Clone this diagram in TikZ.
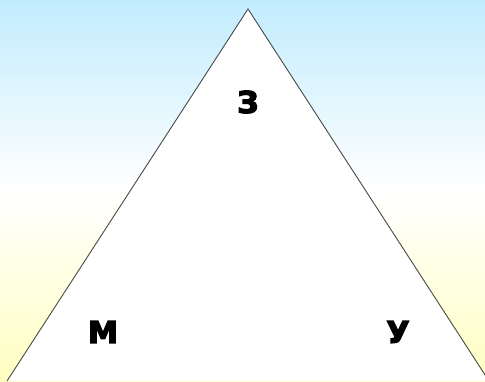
\documentclass[tikz,border=0pt]{standalone}
\usepackage{fontspec}
\newfontfamily\lblfont[FakeBold=4]{DejaVu Sans Bold}
\definecolor{skytop}{HTML}{C2ECFD}
\definecolor{skymid}{HTML}{FFFFFF}
\definecolor{sandbot}{HTML}{FFFFC2}
\definecolor{edgegray}{HTML}{484848}
\begin{document}
\begin{tikzpicture}[x=1pt,y=-1pt,
  lbl/.style={font=\lblfont\fontsize{30}{32}\selectfont, text=black, inner sep=0pt}]
\shade[top color=skytop, bottom color=sandbot, middle color=skymid] (0,0) rectangle (485,381);
\useasboundingbox (0,0) rectangle (485,381);
\coordinate (apex) at (248,9);
\coordinate (bl) at (7,381);
\coordinate (br) at (489,381);
\fill[white] (bl) -- (apex) -- (br) -- cycle;
\draw[edgegray, line width=0.9pt] (bl) -- (apex) -- (br);
\node[lbl] (z) at (248,102) {З};
\node[lbl] (m) at (103,332) {М};
\node[lbl] (u) at (398,332) {У};
\end{tikzpicture}
\end{document}
